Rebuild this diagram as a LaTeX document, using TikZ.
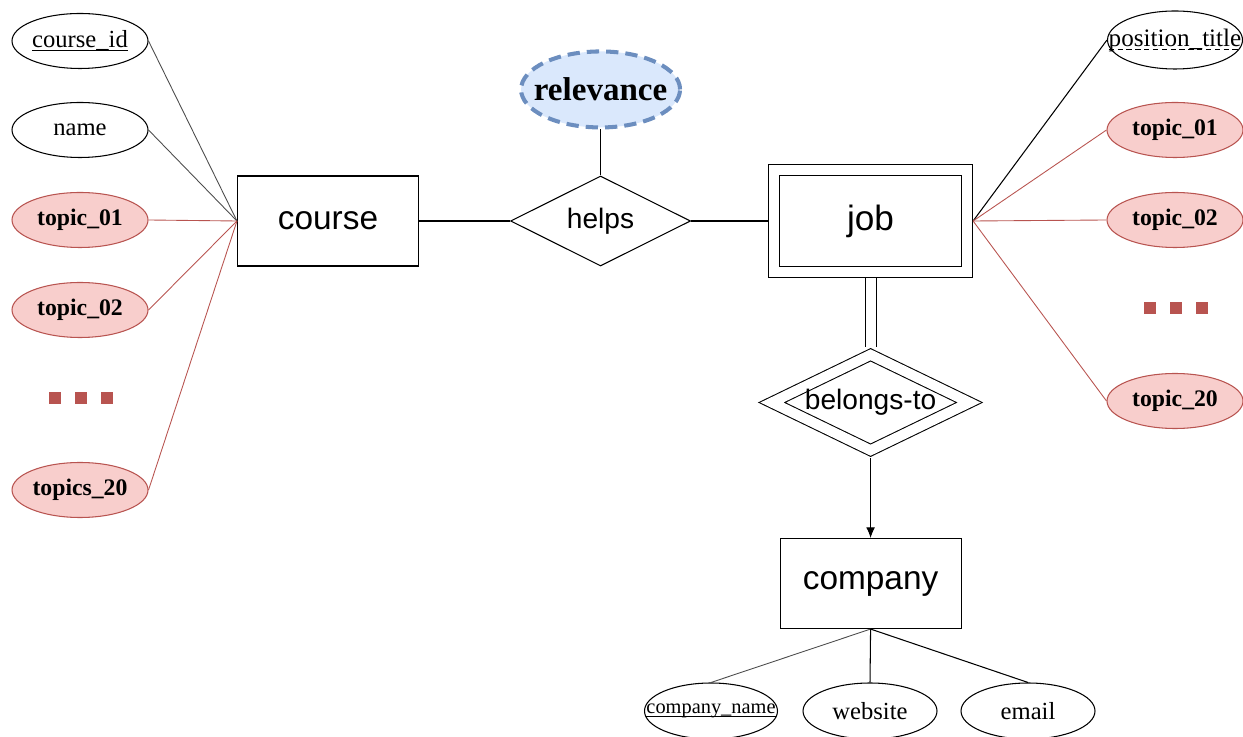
\documentclass[tikz,border=0pt]{standalone}
\usepackage{fontspec}
\setmainfont{Liberation Serif}
\setsansfont{Liberation Sans}
\usepackage{tikz}
\usetikzlibrary{shapes.geometric,arrows.meta,positioning}
\definecolor{topicfill}{HTML}{F8CECC}
\definecolor{topicline}{HTML}{B85450}
\definecolor{relfill}{HTML}{DAE8FC}
\definecolor{relline}{HTML}{6C8EBF}
\newsavebox{\keybox}
\newcommand{\keyline}[1]{\sbox{\keybox}{#1}\rlap{\rule[-2pt]{\wd\keybox}{0.6pt}}\usebox{\keybox}}
\newcommand{\partkeyline}[1]{\sbox{\keybox}{#1}\rlap{\raisebox{-2.5pt}{\hbox to \wd\keybox{\xleaders\hbox to 5pt{\vrule width 3pt height 1pt\hfil}\hfill}}}\usebox{\keybox}}

\begin{document}
\begin{tikzpicture}[line width=0.6pt,
    entity/.style={draw, minimum width=3.62cm, minimum height=1.8cm, inner sep=0pt, font=\sffamily\fontsize{19}{22}\selectfont},
    weakentity/.style={draw, double, double distance=0.2cm, minimum width=3.85cm, minimum height=2.03cm, inner sep=0pt, outer sep=0.125cm, font=\sffamily\fontsize{20}{23}\selectfont},
    rel/.style={draw, diamond, aspect=2, minimum width=3.6cm, minimum height=1.8cm, inner sep=0pt, font=\sffamily\fontsize{16}{19}\selectfont},
    weakrel/.style={draw, diamond, aspect=2, double, double distance=0.2cm, minimum width=4.04cm, minimum height=2.0cm, inner sep=0pt, outer sep=0.11cm, font=\sffamily\fontsize{16}{19}\selectfont},
    attr/.style={draw, ellipse, minimum width=2.72cm, minimum height=1.1cm, inner sep=0pt, font=\fontsize{14}{17}\selectfont},
    topic/.style={draw=topicline, fill=topicfill, ellipse, minimum width=2.72cm, minimum height=1.1cm, inner sep=0pt, font=\bfseries\fontsize{13.5}{16}\selectfont},
    link/.style={draw=black!70, line width=0.5pt},
    topiclink/.style={draw=topicline, line width=0.5pt},
    dotbox/.style={fill=topicline, minimum size=0.24cm, inner sep=0pt}]

  \useasboundingbox (0,0) rectangle (24.86,14.72);

  % main entities and relationships
  \node[entity] (course) at (6.56,10.3) {course};
  \node[rel, right=1.82cm of course] (helps) {helps};
  \node[weakentity, right=1.54cm of helps] (job) {job};
  \node[draw=relline, fill=relfill, ellipse, line width=2.3pt, dash pattern=on 7pt off 4pt, minimum width=3.18cm, minimum height=1.52cm, inner sep=0pt, font=\bfseries\fontsize{18.8}{22}\selectfont, above=0.92cm of helps] (relevance) {\makebox[0pt]{relevance}};
  \node[weakrel, below=1.38cm of job] (belongs) {belongs-to};
  \node[entity, below=1.6cm of belongs] (company) {company};

  \draw (course) -- (helps);
  \draw (helps) -- (job);
  \draw (relevance) -- (helps);
  \draw[double, double distance=0.2cm] (job) -- (belongs);
  \draw[-{Latex[length=6pt,width=5pt]}] (belongs) -- (company);

  % course attributes
  \node[attr] (cid) at (1.6,13.9) {\keyline{course\_id}};
  \node[attr] (cname) at (1.6,12.12) {name};
  \node[topic] (ctopic1) at (1.6,10.32) {topic\_01};
  \node[topic] (ctopic2) at (1.6,8.52) {topic\_02};
  \node[topic] (ctopic20) at (1.6,4.92) {topics\_20};
  \node[dotbox] (cdot1) at (1.1,6.76) {};
  \node[dotbox, right=0.26cm of cdot1] (cdot2) {};
  \node[dotbox, right=0.26cm of cdot2] (cdot3) {};

  \draw[link] (course.west) -- (cid.east);
  \draw[link] (course.west) -- (cname.east);
  \draw[topiclink] (course.west) -- (ctopic1.east);
  \draw[topiclink] (course.west) -- (ctopic2.east);
  \draw[topiclink] (course.west) -- (ctopic20.east);

  % job attributes
  \node[attr, minimum width=2.7cm, minimum height=1.16cm, font=\fontsize{14.3}{17}\selectfont] (ptitle) at (23.5,13.92) {\makebox[0pt]{\partkeyline{position\_title}}};
  \node[topic] (jtopic1) at (23.5,12.12) {topic\_01};
  \node[topic] (jtopic2) at (23.5,10.32) {topic\_02};
  \node[topic] (jtopic20) at (23.5,6.7) {topic\_20};
  \node[dotbox] (jdot1) at (22.99,8.56) {};
  \node[dotbox, right=0.26cm of jdot1] (jdot2) {};
  \node[dotbox, right=0.26cm of jdot2] (jdot3) {};

  \draw (job.east) -- (ptitle.west);
  \draw[topiclink] (job.east) -- (jtopic1.west);
  \draw[topiclink] (job.east) -- (jtopic2.west);
  \draw[topiclink] (job.east) -- (jtopic20.west);

  % company attributes
  \node[attr, minimum width=2.66cm, minimum height=1.12cm, font=\fontsize{11.6}{14}\selectfont] (coname) at (14.22,0.5) {\makebox[0pt]{\keyline{company\_name}}};
  \node[attr, minimum width=2.68cm, minimum height=1.12cm] (website) at (17.4,0.5) {website};
  \node[attr, minimum width=2.68cm, minimum height=1.12cm] (email) at (20.56,0.5) {email};

  \draw[link] (company.south) -- (coname.north);
  \draw (company.south) -- (website.north);
  \draw (company.south) -- (email.north);
\end{tikzpicture}
\end{document}
